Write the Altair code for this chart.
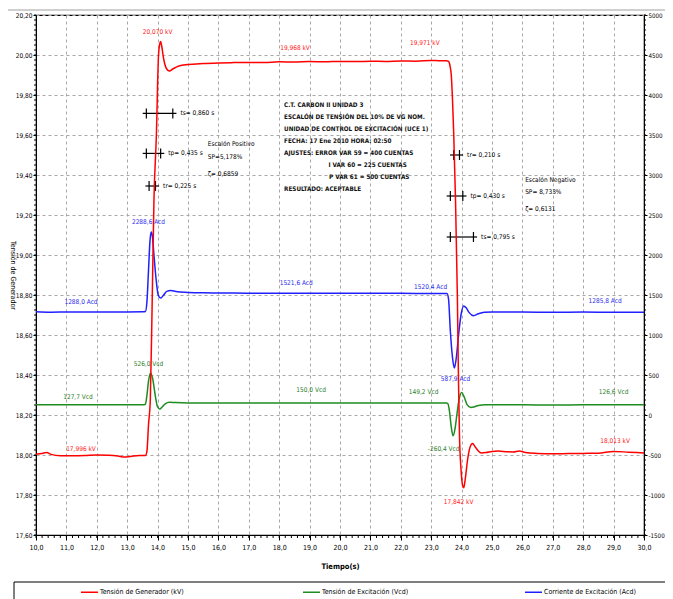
import altair as alt
import pandas as pd

FONT = "DejaVu Sans Condensed, Liberation Sans Narrow, sans-serif"

# ---------------- data ----------------
series_names = ["Tensión de Generador (kV)", "Tensión de Excitación (Vcd)", "Corriente de Excitación (Acd)"]
series_colors = ["#ff0000", "#1e8c1e", "#2020ff"]

# Generator voltage, kV (left axis)
gen_t = [10.0, 10.2, 10.35, 10.5, 10.8, 11.2, 11.6, 12.0, 12.4, 12.7, 12.9, 13.1, 13.4, 13.6,
         13.65, 13.7, 13.76, 13.82, 13.88, 13.96, 14.03, 14.07, 14.1, 14.14, 14.2, 14.3, 14.39,
         14.5, 14.7, 15.0, 15.5, 16.0, 16.5, 17.0, 17.5, 18.0, 18.5, 19.0, 19.5, 20.0, 20.5,
         21.0, 21.5, 22.0, 22.5, 23.0, 23.3, 23.5, 23.57, 23.62, 23.66, 23.7, 23.74, 23.8,
         23.86, 23.9, 23.93, 23.98, 24.03, 24.07, 24.12, 24.2, 24.28, 24.36, 24.45, 24.55,
         24.65, 24.8, 25.0, 25.2, 25.5, 25.7, 25.9, 26.1, 26.5, 27.0, 27.5, 28.0, 28.5, 29.0,
         29.5, 30.0]
gen_kv = [18.004, 18.008, 18.012, 18.003, 17.996, 17.996, 17.997, 18.0, 17.999, 17.995, 17.99,
          17.993, 17.998, 17.998, 18.02, 18.15, 18.275, 18.75, 19.275, 19.6, 20.0, 20.055,
          20.067, 20.04, 19.98, 19.93, 19.92, 19.93, 19.945, 19.952, 19.957, 19.96, 19.962,
          19.963, 19.962, 19.966, 19.965, 19.967, 19.966, 19.968, 19.967, 19.969, 19.968, 19.97,
          19.969, 19.973, 19.971, 19.971, 19.968, 19.945, 19.9, 19.78, 19.61, 19.275, 18.8,
          18.35, 18.1, 17.93, 17.85, 17.836, 17.88, 17.98, 18.04, 18.057, 18.04, 18.02, 18.01,
          18.012, 18.018, 18.02, 18.016, 18.015, 18.02, 18.012, 18.008, 18.006, 18.007, 18.008,
          18.009, 18.018, 18.014, 18.01]

# Excitation voltage, Vcd (right axis)
exc_t = [10.0, 11.0, 12.0, 13.0, 13.5, 13.6, 13.65, 13.7, 13.77, 13.84, 13.92, 14.0, 14.07,
         14.15, 14.25, 14.39, 14.6, 15.0, 16.0, 17.0, 18.0, 19.0, 20.0, 21.0, 22.0, 23.0, 23.5,
         23.55, 23.6, 23.66, 23.72, 23.78, 23.85, 23.92, 24.0, 24.08, 24.18, 24.3, 24.4, 24.55,
         24.8, 25.0, 26.0, 27.0, 28.0, 29.0, 30.0]
exc_vcd = [128, 127, 128, 127, 128, 135, 250, 420, 526, 450, 250, 100, 75, 100, 140, 160, 155,
           151, 150, 150, 150, 150, 150, 150, 149, 149, 149, 140, 50, -150, -260, -180, 20, 200,
           280, 230, 130, 95, 100, 120, 127, 127, 127, 126, 127, 126.6, 126.6]

# Excitation current, Acd (right axis)
cur_t = [10.0, 10.5, 11.0, 11.5, 12.0, 12.5, 13.0, 13.5, 13.6, 13.65, 13.7, 13.75, 13.79, 13.83,
         13.88, 13.95, 14.02, 14.1, 14.2, 14.3, 14.43, 14.6, 14.9, 15.5, 16.5, 17.5, 18.5, 19.5,
         20.5, 21.5, 22.5, 23.3, 23.52, 23.57, 23.63, 23.7, 23.76, 23.82, 23.9, 23.98, 24.07,
         24.15, 24.25, 24.39, 24.55, 24.75, 25.0, 26.0, 27.0, 28.0, 29.0, 30.0]
cur_acd = [1290, 1285, 1287, 1288, 1288, 1289, 1288, 1290, 1295, 1420, 1800, 2180, 2288, 2230,
           2000, 1700, 1500, 1462, 1500, 1545, 1555, 1545, 1535, 1528, 1524, 1522, 1521, 1522,
           1521, 1521, 1520, 1520, 1518, 1450, 1050, 720, 588, 700, 1000, 1250, 1363, 1340,
           1280, 1241, 1265, 1283, 1286, 1286, 1285, 1286, 1285, 1285]

# value labels
gen_label_t = [14.0, 18.52, 22.79, 11.48, 23.9, 29.05]
gen_label_kv = [20.115, 20.035, 20.06, 18.03, 17.767, 18.07]
gen_label_text = ["20,070 kV", "19,968 kV", "19,971 kV", "17,996 kV", "17,842 kV", "18,013 kV"]

cur_label_t = [13.7, 11.48, 18.56, 22.98, 23.8, 28.72]
cur_label_acd = [2416, 1416, 1650, 1596, 450, 1425]
cur_label_text = ["2288,6 Acd", "1288,0 Acd", "1521,6 Acd", "1520,4 Acd", "587,9 Acd", "1285,8 Acd"]

exc_label_t = [13.7, 11.38, 19.05, 22.75, 23.41, 29.0]
exc_label_vcd = [634, 229, 312, 291, -429, 291]
exc_label_text = ["526,0 Vcd", "127,7 Vcd", "150,0 Vcd", "149,2 Vcd", "-260,4 Vcd", "126,6 Vcd"]

# time markers (tr / tp / ts)
cross_t0 = [13.63, 13.63, 13.72, 23.74, 23.63, 23.63]
cross_t1 = [14.50, 14.10, 13.93, 23.93, 24.04, 24.39]
cross_kv = [19.708, 19.508, 19.345, 19.50, 19.295, 19.09]
cross_text = ["ts= 0,860 s", "tp= 0,435 s", "tr= 0,225 s", "tr= 0,210 s", "tp= 0,430 s", "ts= 0,795 s"]

# step descriptions
step_t = [15.65, 15.65, 15.65, 26.09, 26.09, 26.09]
step_kv = [19.553, 19.49, 19.405, 19.375, 19.313, 19.23]
step_text = ["Escalón Positivo", "SP=5,178%", "ζ= 0,6859", "Escalón Negativo", "SP= 8,733%", "ζ= 0,6131"]

# info block
info_t = [18.16, 18.16, 18.16, 18.16, 18.16, 19.62, 19.64, 18.16]
info_kv = [19.75, 19.689, 19.63, 19.572, 19.512, 19.452, 19.392, 19.33]
info_text = ["C.T. CARBON II UNIDAD 3",
             "ESCALÓN DE TENSIÓN DEL 10% DE VG NOM.",
             "UNIDAD DE CONTROL DE EXCITACIÓN (UCE 1)",
             "FECHA: 17 Ene 2010  HORA: 02:50",
             "AJUSTES: ERROR VAR 59 = 400 CUENTAS",
             "I VAR 60 = 225 CUENTAS",
             "P VAR 61 = 500 CUENTAS",
             "RESULTADO: ACEPTABLE"]

# axis tick values: major (labelled) and minor
x_major = [10 + i for i in range(21)]
kv_major = [round(17.6 + 0.2 * i, 1) for i in range(14)]
acd_major = [-1500 + 500 * i for i in range(14)]
x_minor = [round(10 + 0.2 * i, 1) for i in range(101)]
kv_minor = [round(17.6 + 0.025 * i, 3) for i in range(105)]
acd_minor = [-1500 + 62.5 * i for i in range(105)]

# ---------------- tables ----------------
gen_df = pd.DataFrame({"t": gen_t, "v": gen_kv, "serie": series_names[0]})
right_df = pd.concat([
    pd.DataFrame({"t": exc_t, "v": exc_vcd, "serie": series_names[1]}),
    pd.DataFrame({"t": cur_t, "v": cur_acd, "serie": series_names[2]}),
])
gen_lab = pd.DataFrame({"t": gen_label_t, "v": gen_label_kv, "txt": gen_label_text})
cur_lab = pd.DataFrame({"t": cur_label_t, "v": cur_label_acd, "txt": cur_label_text})
exc_lab = pd.DataFrame({"t": exc_label_t, "v": exc_label_vcd, "txt": exc_label_text})
cross_df = pd.DataFrame({"t0": cross_t0, "t1": cross_t1, "v": cross_kv, "txt": cross_text})
cross_df["xa"] = cross_df["t0"] - 0.12
cross_df["xb"] = cross_df["t1"] + 0.12
tick_df = pd.DataFrame({"t": cross_t0 + cross_t1, "v": cross_kv + cross_kv})
tick_df["lo"] = tick_df["v"] - 0.025
tick_df["hi"] = tick_df["v"] + 0.025
step_df = pd.DataFrame({"t": step_t, "v": step_kv, "txt": step_text})
info_df = pd.DataFrame({"t": info_t, "v": info_kv, "txt": info_text})
xm_df = pd.DataFrame({"t": x_minor})
kvm_df = pd.DataFrame({"v": kv_minor})
acdm_df = pd.DataFrame({"v": acd_minor})

W, H = 608, 520

# ---------------- scales / axes ----------------
x_scale = alt.Scale(domain=[10, 30], nice=False, zero=False)
kv_scale = alt.Scale(domain=[17.6, 20.2], nice=False, zero=False)
acd_scale = alt.Scale(domain=[-1500, 5000], nice=False, zero=False)
color_scale = alt.Scale(domain=series_names, range=series_colors)

x_axis = alt.Axis(
    values=x_major, labelOverlap=False, labelFlush=False,
    labelExpr="replace(format(datum.value, '.1f'), '.', ',')",
    tickSize=5, grid=True, titleFontWeight="bold", titlePadding=12, labelPadding=3,
)
kv_axis = alt.Axis(
    orient="left", values=kv_major, labelOverlap=False, labelFlush=False,
    labelExpr="replace(format(datum.value, '.2f'), '.', ',')", labelFontSize=6.5,
    tickSize=3, grid=True, titleAngle=90, titleBaseline="bottom", titleX=-27,
    titleFontSize=7, labelPadding=1,
)
acd_axis = alt.Axis(
    orient="right", values=acd_major, labelOverlap=False, labelFlush=False,
    labelExpr="datum.value + ''", labelFontSize=6.2,
    tickSize=3, grid=False, labelPadding=1,
)
legend = alt.Legend(
    orient="none", legendX=44, legendY=567.5, direction="horizontal", columns=3,
    symbolType="stroke", symbolSize=289, symbolStrokeWidth=1.5, labelFont=FONT,
    labelFontSize=7, labelOffset=1, gridAlign="all", columnPadding=108, padding=0,
    title=None, labelLimit=300,
)


def X(field):
    return alt.X(f"{field}:Q", scale=x_scale, axis=x_axis, title="Tiempo(s)")


def YK(field):
    return alt.Y(f"{field}:Q", scale=kv_scale, axis=kv_axis, title="Tensión de Generador")


def YA(field):
    return alt.Y(f"{field}:Q", scale=acd_scale, axis=acd_axis, title="")


# ---------------- right-axis group ----------------
right_lines = alt.Chart(right_df).mark_line(strokeWidth=1.5, interpolate="monotone").encode(
    x=X("t"), y=YA("v"),
    color=alt.Color("serie:N", scale=color_scale, legend=legend),
    detail="serie:N",
)
cur_text = alt.Chart(cur_lab).mark_text(font=FONT, fontSize=6.5, color="#2a2aee").encode(
    x=X("t"), y=YA("v"), text="txt:N")
exc_text = alt.Chart(exc_lab).mark_text(font=FONT, fontSize=6.5, color="#2a7d2a").encode(
    x=X("t"), y=YA("v"), text="txt:N")
acd_minor_ticks = alt.Chart(acdm_df).mark_rule(color="black", strokeWidth=1).encode(
    x=alt.value(W), x2=alt.value(W + 2), y=YA("v"))
right_group = alt.layer(right_lines, cur_text, exc_text, acd_minor_ticks)

# ---------------- left-axis group ----------------
gen_line = alt.Chart(gen_df).mark_line(strokeWidth=1.5, interpolate="monotone").encode(
    x=X("t"), y=YK("v"),
    color=alt.Color("serie:N", scale=color_scale, legend=legend),
)
gen_text = alt.Chart(gen_lab).mark_text(font=FONT, fontSize=6.5, color="#ff2020").encode(
    x=X("t"), y=YK("v"), text="txt:N")
cross_h = alt.Chart(cross_df).mark_rule(color="black", strokeWidth=1.2).encode(
    x=X("xa"), x2="xb:Q", y=YK("v"))
cross_v = alt.Chart(tick_df).mark_rule(color="black", strokeWidth=1.2).encode(
    x=X("t"), y=YK("lo"), y2="hi:Q")
cross_txt = alt.Chart(cross_df).mark_text(font=FONT, fontSize=6.5, align="left", dx=4, color="black").encode(
    x=X("xb"), y=YK("v"), text="txt:N")
step_txt = alt.Chart(step_df).mark_text(font=FONT, fontSize=6.5, align="left", color="black").encode(
    x=X("t"), y=YK("v"), text="txt:N")
info_txt = alt.Chart(info_df).mark_text(font=FONT, fontSize=6.3, fontWeight="bold", align="left", color="#111111").encode(
    x=X("t"), y=YK("v"), text="txt:N")
kv_minor_ticks = alt.Chart(kvm_df).mark_rule(color="black", strokeWidth=1).encode(
    x=alt.value(0), x2=alt.value(-2), y=YK("v"))
x_minor_ticks = alt.Chart(xm_df).mark_rule(color="black", strokeWidth=1).encode(
    x=X("t"), y=alt.value(H), y2=alt.value(H + 3))

deco = pd.DataFrame({"d": [0]})
legend_box = alt.Chart(deco).mark_rect(fill="white", fillOpacity=0, stroke="black", strokeWidth=1).encode(
    x=alt.value(-22), x2=alt.value(650), y=alt.value(567), y2=alt.value(600))
top_line = alt.Chart(deco).mark_rule(color="#a0a0a0", strokeWidth=1).encode(
    x=alt.value(-28), x2=alt.value(650), y=alt.value(-5))

left_group = alt.layer(legend_box, top_line, kv_minor_ticks, x_minor_ticks, cross_h, cross_v,
                       cross_txt, step_txt, info_txt, gen_text, gen_line)

chart = alt.layer(right_group, left_group).resolve_scale(y="independent").properties(
    width=W, height=H,
    autosize=alt.AutoSizeParams(type="none"),
    padding={"left": 28, "top": 7, "right": 21, "bottom": 64},
).configure_view(stroke="black", strokeWidth=1.2).configure_axis(
    labelFont=FONT, labelFontSize=7, titleFont=FONT, titleFontSize=7.5, titleFontWeight="normal",
    domainColor="black", tickColor="black", labelColor="black", titleColor="black",
    gridColor="#a8a8a8", gridDash=[3, 3], gridWidth=1,
)

chart.save("out.html", embed_options={"renderer": "svg", "actions": False})
